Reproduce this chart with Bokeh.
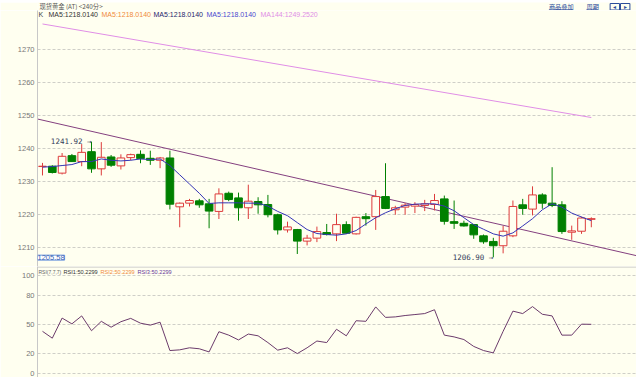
from bokeh.plotting import figure
from bokeh.layouts import column
from bokeh.models import Range1d, FixedTicker, Span, Label, ColumnDataSource
from bokeh.core.properties import value
from bokeh.embed import file_html
from bokeh.resources import INLINE

# ---------------- data ----------------
opens = [1234.4, 1234.5, 1232.4, 1237.7, 1235.9, 1238.9, 1233.7, 1237.3, 1234.6, 1237.1,
         1238.1, 1236.9, 1236.3, 1237.0, 1222.2, 1223.3, 1224.0, 1223.1, 1220.8, 1226.3,
         1224.9, 1221.9, 1223.8, 1222.9, 1219.8, 1215.2, 1215.3, 1211.8, 1212.7, 1214.4,
         1214.0, 1216.8, 1214.0, 1219.2, 1219.2, 1225.3, 1221.3, 1222.1, 1222.4, 1222.6,
         1222.9, 1224.6, 1217.7, 1217.2, 1216.8, 1213.4, 1211.7, 1210.4, 1213.4, 1222.8,
         1221.5, 1225.8, 1223.3, 1222.8, 1214.5, 1214.8, 1218.4]
highs = [1235.5, 1234.8, 1238.5, 1238.2, 1241.2, 1241.92, 1241.8, 1237.9, 1238.1, 1238.3,
         1239.3, 1239.2, 1237.3, 1239.2, 1223.5, 1224.6, 1224.6, 1224.6, 1227.8, 1226.8,
         1226.5, 1228.9, 1225.1, 1225.8, 1220.1, 1217.7, 1215.5, 1213.7, 1216.2, 1217.0,
         1220.1, 1217.8, 1219.2, 1220.3, 1227.3, 1235.4, 1222.5, 1223.3, 1223.6, 1224.3,
         1226.1, 1225.6, 1224.1, 1218.0, 1217.0, 1213.8, 1212.8, 1216.4, 1224.1, 1224.6,
         1228.4, 1226.3, 1234.2, 1223.9, 1216.5, 1219.2, 1219.0]
lows = [1231.7, 1232.3, 1232.0, 1235.9, 1234.5, 1232.5, 1231.7, 1234.3, 1233.5, 1236.3,
        1235.4, 1234.9, 1233.9, 1221.4, 1216.0, 1222.3, 1221.9, 1215.7, 1218.5, 1223.9,
        1218.0, 1218.5, 1220.1, 1219.0, 1213.8, 1214.4, 1207.9, 1210.5, 1211.5, 1213.5,
        1211.8, 1214.0, 1213.8, 1216.5, 1215.2, 1221.5, 1219.8, 1219.8, 1220.3, 1220.9,
        1221.1, 1216.8, 1215.5, 1216.2, 1212.5, 1211.0, 1206.9, 1208.1, 1213.0, 1219.8,
        1219.6, 1221.6, 1222.1, 1214.0, 1212.2, 1214.0, 1216.0]
closes = [1234.5, 1232.6, 1237.5, 1235.9, 1238.7, 1233.7, 1237.2, 1234.8, 1237.0, 1238.0,
          1236.8, 1236.3, 1237.0, 1223.0, 1223.3, 1224.1, 1222.8, 1220.9, 1226.1, 1224.4,
          1221.9, 1223.9, 1222.8, 1219.8, 1215.2, 1216.1, 1211.8, 1212.7, 1214.7, 1213.8,
          1216.8, 1214.2, 1219.0, 1218.6, 1225.3, 1221.7, 1221.9, 1222.7, 1222.9, 1223.1,
          1224.1, 1217.8, 1217.2, 1216.4, 1213.7, 1211.6, 1210.4, 1214.8, 1222.3, 1221.7,
          1225.8, 1223.3, 1222.6, 1214.7, 1214.9, 1218.8, 1218.6]
ma5 = [1234.2, 1234.4, 1234.7, 1235.0, 1235.9, 1235.9, 1236.7, 1236.3, 1236.1, 1236.3,
       1236.7, 1236.5, 1236.7, 1234.7, 1231.9, 1229.1, 1226.3, 1223.2, 1223.4, 1223.4,
       1223.4, 1223.3, 1223.3, 1222.4, 1220.8, 1219.5, 1217.4, 1215.3, 1214.1, 1213.8,
       1213.6, 1214.0, 1215.0, 1217.0, 1218.9, 1220.4, 1221.6, 1222.6, 1223.0, 1223.1,
       1223.1, 1222.4, 1221.0, 1218.9, 1216.8, 1215.4, 1214.0, 1213.3, 1214.3, 1216.4,
       1218.6, 1221.3, 1223.1, 1222.1, 1220.3, 1219.1, 1218.0]
rsi = [43.1, 36.1, 56.6, 50.7, 58.8, 43.7, 53.3, 47.3, 52.9, 56.3,
       51.4, 49.4, 52.4, 23.5, 24.2, 26.3, 25.3, 22.1, 42.7, 39.2,
       34.3, 40.3, 38.5, 31.6, 23.9, 26.3, 20.4, 26.3, 33.2, 31.6,
       45.2, 38.5, 53.9, 53.3, 68.0, 57.3, 57.8, 59.2, 60.2, 61.2,
       65.1, 39.2, 37.4, 34.7, 27.7, 23.5, 21.1, 43.1, 63.7, 61.2,
       68.3, 60.5, 58.8, 39.2, 39.2, 50.4, 50.23]
ma144_idx = [0, 28, 56]
ma144_val = [1277.6, 1263.4, 1249.252]
trend_idx = [-0.51, 60.6]
trend_val = [1248.8, 1207.4]
price_ticks = [1210, 1220, 1230, 1240, 1250, 1260, 1270]
rsi_ticks = [0, 20, 50, 80, 100]
hi_idx, hi_val = 5, 1241.92
lo_idx, lo_val = 46, 1206.90
cursor_price = 1205.58
title_text = "现货黄金 (AT) <240分>"
legend_texts = ["K", "MA5:1218.0140", "MA5:1218.0140", "MA5:1218.0140", "MA5:1218.0140", "MA144:1249.2520"]
rsi_texts = ["RSI(7,7,7)", "RSI1:50.2299", "RSI2:50.2299", "RSI3:50.2299"]

# ---------------- styling / layout ----------------
BG = "#fffff0"
UP = "#dd3b3b"
DN = "#008000"
GRID = "#cfcfc8"
LBL = "#777777"
X0, X1 = -0.51, 60.61
PY0, PY1 = 1204.11, 1281.68
RY0, RY1 = -4.0, 109.2

def px2i(px):
    return X0 + (px - 37) / 9.8

n = len(opens)
idx = list(range(n))
up = [closes[i] >= opens[i] for i in idx]

def sub(mask):
    ii = [i for i in idx if mask[i]]
    return ColumnDataSource(dict(
        x=ii,
        hi=[highs[i] for i in ii], lo=[lows[i] for i in ii],
        top=[max(opens[i], closes[i]) for i in ii],
        bot=[min(opens[i], closes[i]) for i in ii]))

src_up = sub(up)
src_dn = sub([not u for u in up])

# header strip
hdr = figure(width=636, height=10, x_range=Range1d(0, 636), y_range=Range1d(0, 10),
             x_axis_location=None, y_axis_location=None, toolbar_location=None,
             output_backend="svg", min_border=0, outline_line_color=None,
             background_fill_color=BG, border_fill_color=BG)
hdr.xgrid.grid_line_color = None
hdr.ygrid.grid_line_color = None
hdr.text(x=[2], y=[5.6], text=[title_text], text_font=value("Noto Sans CJK SC"),
         text_font_size="6.3px", text_color="#555555", text_baseline="middle")
hdr.text(x=[543, 583], y=[5.6, 5.6], text=["商品叠加", "周期"], text_font=value("Noto Sans CJK SC"),
         text_font_size="6.2px", text_color="#2b4c9b", text_baseline="middle")
hdr.segment(x0=[543, 583], y0=[2.6, 2.6], x1=[568, 595], y1=[2.6, 2.6], line_color="#2b4c9b", line_width=1)
hdr.quad(left=[608, 619], right=[618, 629], top=[9, 9], bottom=[2.5, 2.5],
         fill_color=None, line_color="#2b4c9b", line_width=1)
hdr.text(x=[613, 624], y=[5.7, 5.7], text=["◂", "▸"], text_font_size="6px",
         text_color="#2b4c9b", text_align="center", text_baseline="middle")
hdr.add_layout(Span(location=0.5, dimension="width", line_color="#c8c8c8", line_width=1))

# price panel
p1 = figure(width=636, height=256, x_range=Range1d(X0, X1), y_range=Range1d(PY0, PY1),
            x_axis_location=None, toolbar_location=None, output_backend="svg",
            min_border_left=37, min_border_right=0, min_border_top=0, min_border_bottom=0,
            background_fill_color=BG, border_fill_color=BG, outline_line_color=None)
p1.yaxis.ticker = FixedTicker(ticks=price_ticks)
for ax in p1.yaxis:
    ax.major_label_text_font = "Liberation Sans"
    ax.major_label_text_font_size = "7.5px"
    ax.major_label_text_color = LBL
    ax.major_tick_out = 0
    ax.major_tick_in = 0
    ax.minor_tick_out = 0
    ax.minor_tick_in = 0
    ax.axis_line_color = "#c8c8c8"
    ax.major_label_standoff = 3
p1.ygrid.grid_line_color = GRID
p1.ygrid.grid_line_dash = "3 2"
p1.xgrid.grid_line_color = None

p1.line(ma144_idx, ma144_val, line_color="#e08ee6", line_width=1)
p1.line(trend_idx, trend_val, line_color="#84407f", line_width=1)

p1.segment(x0="x", y0="hi", x1="x", y1="lo", source=src_up, line_color=UP, line_width=1)
p1.segment(x0="x", y0="hi", x1="x", y1="lo", source=src_dn, line_color=DN, line_width=1)
p1.vbar(x="x", top="top", bottom="bot", width=0.78, source=src_up,
        fill_color=BG, line_color=UP, line_width=1)
p1.vbar(x="x", top="top", bottom="bot", width=0.78, source=src_dn,
        fill_color=DN, line_color=DN, line_width=1)

p1.line(idx, ma5, line_color="#3535b5", line_width=1)

p1.text(x=[hi_idx, lo_idx], y=[hi_val, lo_val],
        text=[f"{hi_val:.2f} →", f"{lo_val:.2f} →"],
        text_font=value("DejaVu Sans Mono"), text_font_size="7.5px",
        text_color="#34405a", text_align="right", text_baseline="middle")

leg_y = PY1 - 4 / 3.3
leg_src = ColumnDataSource(dict(
    x=[px2i(v) for v in [38, 48, 101, 153, 206, 260]],
    y=[leg_y] * 6,
    t=legend_texts,
    c=["#444444", "#333333", "#f08a3c", "#24246e", "#4a4ad0", "#e08ee6"]))
p1.text(x="x", y="y", text="t", text_color="c", source=leg_src,
        text_font=value("Liberation Sans"), text_font_size="7px", text_baseline="middle")

p1.add_layout(Label(x=X0, y=cursor_price, text=f"{cursor_price:.2f}", y_offset=4,
                    text_font="Liberation Sans", text_font_size="7.5px", text_color="#3a64b4",
                    text_baseline="middle", background_fill_color="#ffffff",
                    border_line_color="#6a94dc"))

# RSI panel
p2 = figure(width=636, height=111, x_range=p1.x_range, y_range=Range1d(RY0, RY1),
            x_axis_location=None, toolbar_location=None, output_backend="svg",
            min_border_left=37, min_border_right=0, min_border_top=0, min_border_bottom=0,
            background_fill_color=BG, border_fill_color=BG, outline_line_color=None)
p2.yaxis.ticker = FixedTicker(ticks=rsi_ticks)
for ax in p2.yaxis:
    ax.major_label_text_font = "Liberation Sans"
    ax.major_label_text_font_size = "7.5px"
    ax.major_label_text_color = LBL
    ax.major_tick_out = 0
    ax.major_tick_in = 0
    ax.minor_tick_out = 0
    ax.minor_tick_in = 0
    ax.axis_line_color = "#c8c8c8"
    ax.major_label_standoff = 3
p2.ygrid.grid_line_color = GRID
p2.ygrid.grid_line_dash = "3 2"
p2.xgrid.grid_line_color = None
p2.add_layout(Span(location=RY1 - 0.5, dimension="width", line_color="#c0c0c0", line_width=1))

p2.line(idx, rsi, line_color="#6b3b6b", line_width=1)

rsi_y = RY1 - 5.7 / 0.981
rsi_src = ColumnDataSource(dict(
    x=[px2i(v) for v in [38, 63, 100, 137]],
    y=[rsi_y] * 4,
    t=rsi_texts,
    c=["#666666", "#333333", "#f08a3c", "#6a3a9a"],
    s=["5px", "5.6px", "5.6px", "5.6px"]))
p2.text(x="x", y="y", text="t", text_color="c", text_font_size="s", source=rsi_src,
        text_font=value("Liberation Sans"), text_baseline="middle")

layout = column(hdr, p1, p2, spacing=0)
open("out.html", "w").write(file_html(layout, INLINE))
